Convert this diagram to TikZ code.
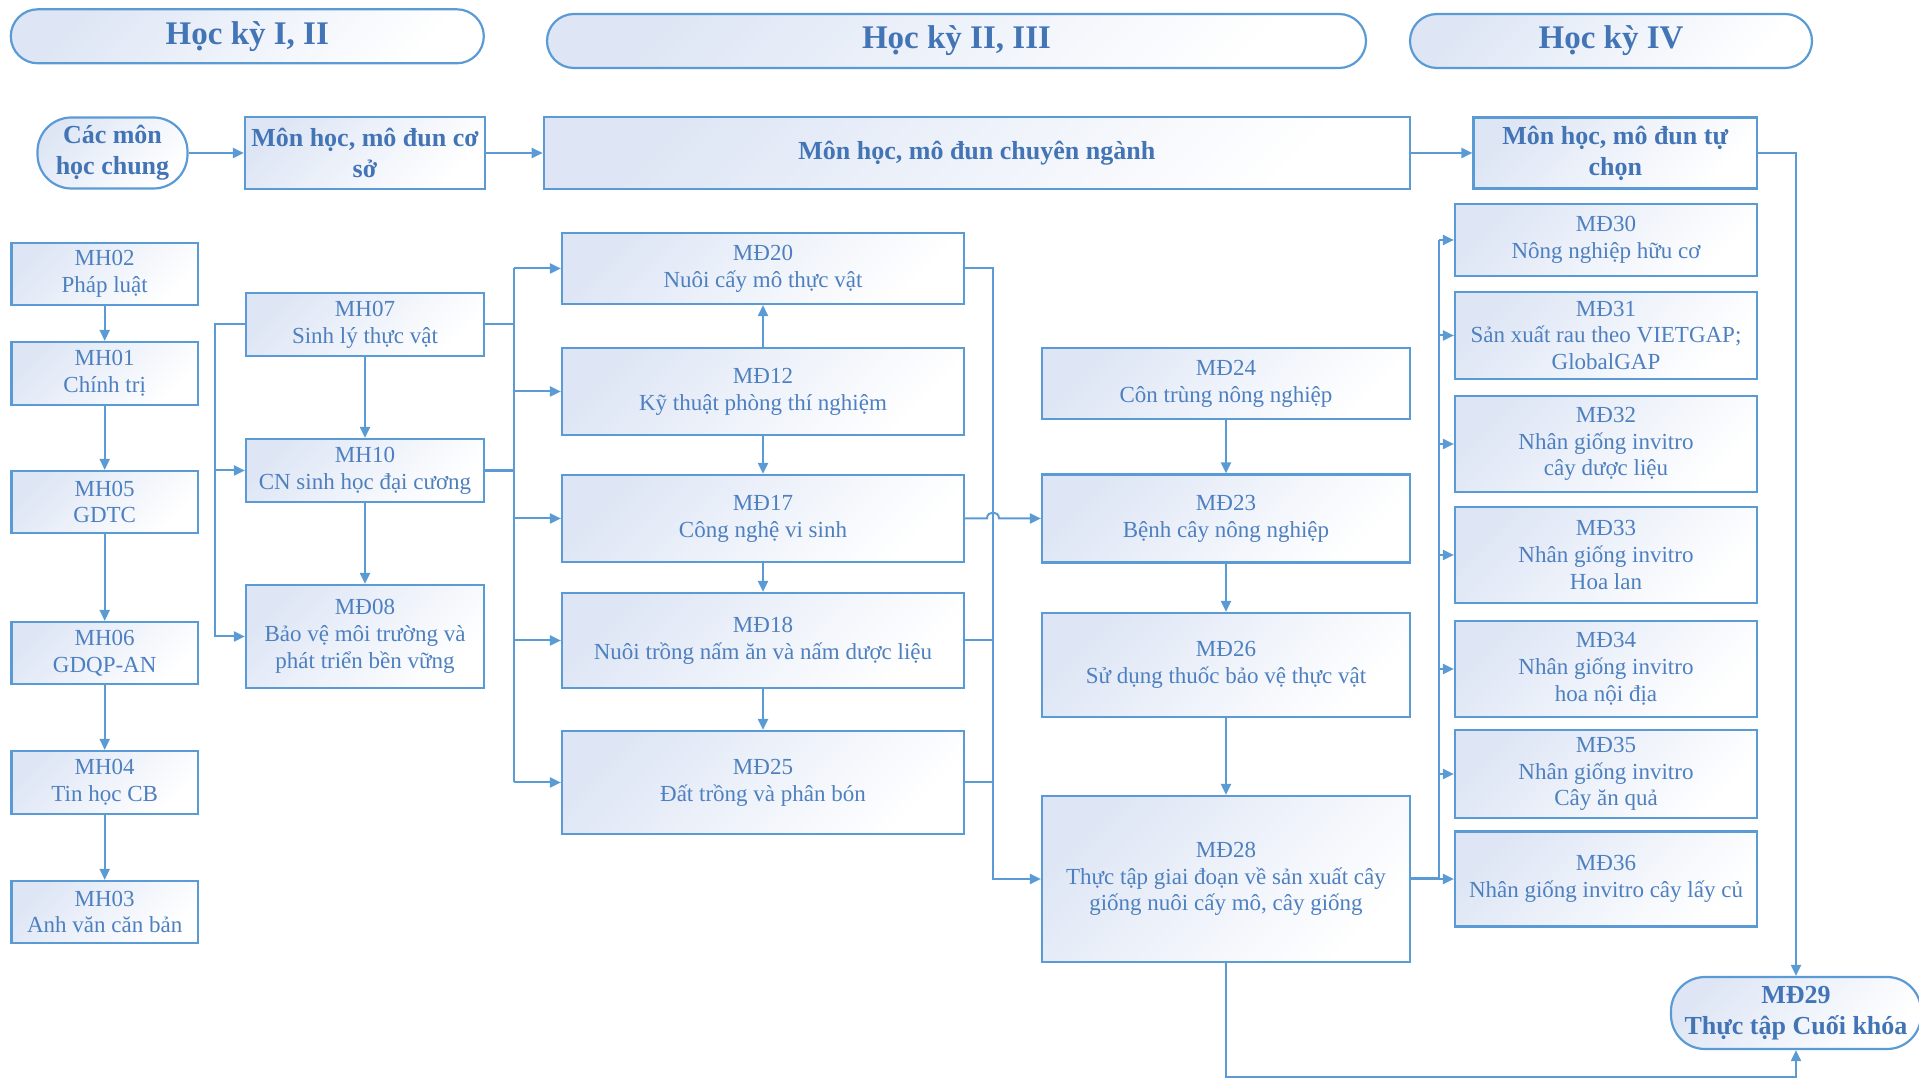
\documentclass[tikz,border=0pt]{standalone}
\usepackage{fontspec}
\setmainfont{Liberation Serif}
\usetikzlibrary{arrows.meta,calc}

\definecolor{lineblue}{RGB}{91,155,213}
\definecolor{txtblue}{RGB}{78,128,192}
\definecolor{hdrblue}{RGB}{66,116,182}
\definecolor{fillblue}{RGB}{222,230,245}

\tikzset{
  modbox/.style={draw=lineblue, line width=1.1pt, top color=fillblue, bottom color=white, shading angle=45,
    text=txtblue, align=center, inner sep=2pt, font=\fontsize{11.5}{13.4}\selectfont},
  titlebox/.style={modbox, text=hdrblue, font=\fontsize{13}{15.5}\selectfont\bfseries},
  pillbox/.style={titlebox, rounded corners=17pt},
  hdr/.style={modbox, text=hdrblue, rounded corners=13.5pt, minimum height=27pt,
    font=\fontsize{16.5}{19}\selectfont\bfseries},
  colA/.style={modbox, minimum width=93.3pt},
  colB/.style={modbox, minimum width=119pt},
  colC/.style={modbox, minimum width=201pt},
  colD/.style={modbox, minimum width=184pt},
  colE/.style={modbox, minimum width=151pt},
  arr/.style={draw=lineblue, line width=1pt, -{Triangle[length=5.5pt,width=5pt]}},
  bus/.style={draw=lineblue, line width=1pt},
}

\begin{document}
\begin{tikzpicture}[x=0.5pt,y=0.5pt,yscale=-1,xscale=1]
\useasboundingbox (0,0) rectangle (1919,1079);

% Headers
\node[hdr, minimum width=236.5pt] (hk1) at (247.3,36.3) {Học kỳ I, II};
\node[hdr, minimum width=409.5pt] (hk2) at (956.5,41) {Học kỳ II, III};
\node[hdr, minimum width=201pt] (hk4) at (1611,41) {Học kỳ IV};

% Top row
\node[pillbox, minimum width=75pt, minimum height=35.5pt] (chung) at (112.5,153) {Các môn\\học chung};
\node[titlebox, minimum width=120pt, minimum height=36pt] (coso) at (365,153) {Môn học, mô đun cơ\\sở};
\node[titlebox, minimum width=433pt, minimum height=36pt] (chuyen) at (976.8,153) {Môn học, mô đun chuyên ngành};
\node[titlebox, minimum width=141.75pt, minimum height=35.5pt] (tuchon) at (1615.25,153) {Môn học, mô đun tự\\chọn};

% Column 1
\node[colA, minimum height=31pt] (mh02) at (104.7,274) {MH02\\Pháp luật};
\node[colA, minimum height=31.5pt] (mh01) at (104.7,373.5) {MH01\\Chính trị};
\node[colA, minimum height=31pt] (mh05) at (104.7,502) {MH05\\GDTC};
\node[colA, minimum height=31pt] (mh06) at (104.7,653) {MH06\\GDQP-AN};
\node[colA, minimum height=31.5pt] (mh04) at (104.7,782.5) {MH04\\Tin học CB};
\node[colA, minimum height=31pt] (mh03) at (104.7,912) {MH03\\Anh văn căn bản};

% Column 2
\node[colB, minimum height=31.5pt] (mh07) at (365,324.5) {MH07\\Sinh lý thực vật};
\node[colB, minimum height=31.5pt] (mh10) at (365,470.5) {MH10\\CN sinh học đại cương};
\node[colB, minimum height=51.5pt] (md08) at (365,636.5) {MĐ08\\Bảo vệ môi trường và\\phát triển bền vững};

% Column 3
\node[colC, minimum height=35.5pt] (md20) at (763,268.5) {MĐ20\\Nuôi cấy mô thực vật};
\node[colC, minimum height=43.5pt] (md12) at (763,391.5) {MĐ12\\Kỹ thuật phòng thí nghiệm};
\node[colC, minimum height=43.5pt] (md17) at (763,518.5) {MĐ17\\Công nghệ vi sinh};
\node[colC, minimum height=47.5pt] (md18) at (763,640.5) {MĐ18\\Nuôi trồng nấm ăn và nấm dược liệu};
\node[colC, minimum height=51.5pt] (md25) at (763,782.5) {MĐ25\\Đất trồng và phân bón};

% Column 4
\node[colD, minimum height=35.5pt] (md24) at (1226,383.5) {MĐ24\\Côn trùng nông nghiệp};
\node[colD, minimum height=44pt] (md23) at (1226,518.5) {MĐ23\\Bệnh cây nông nghiệp};
\node[colD, minimum height=52pt] (md26) at (1226,665) {MĐ26\\Sử dụng thuốc bảo vệ thực vật};
\node[colD, minimum height=83pt] (md28) at (1226,879) {MĐ28\\Thực tập giai đoạn về sản xuất cây\\giống nuôi cấy mô, cây giống};

% Column 5
\node[colE, minimum height=36pt] (md30) at (1606,240) {MĐ30\\Nông nghiệp hữu cơ};
\node[colE, minimum height=43.5pt] (md31) at (1606,335.5) {MĐ31\\Sản xuất rau theo VIETGAP;\\GlobalGAP};
\node[colE, minimum height=48pt] (md32) at (1606,444) {MĐ32\\Nhân giống invitro\\cây dược liệu};
\node[colE, minimum height=48pt] (md33) at (1606,555) {MĐ33\\Nhân giống invitro\\Hoa lan};
\node[colE, minimum height=48pt] (md34) at (1606,669) {MĐ34\\Nhân giống invitro\\hoa nội địa};
\node[colE, minimum height=44pt] (md35) at (1606,774) {MĐ35\\Nhân giống invitro\\Cây ăn quả};
\node[colE, minimum height=47.5pt] (md36) at (1606,879) {MĐ36\\Nhân giống invitro cây lấy củ};

% Final practice
\node[pillbox, minimum width=125pt, minimum height=36pt] (md29) at (1796,1013) {MĐ29\\Thực tập Cuối khóa};

% Bus points
\coordinate (b1) at (514,0);
\coordinate (b2) at (993,0);
\coordinate (b3) at (1439,0);
\coordinate (bot) at (1796,1077);

% Top row connectors
\draw[arr] (chung) -- (coso);
\draw[arr] (coso) -- (chuyen);
\draw[arr] (chuyen) -- (tuchon);
\draw[arr] (tuchon.east) -| (md29.north);
\draw[arr] (md28.south) |- (bot) -- (md29.south);

% Column 1 chain
\draw[arr] (mh02) -- (mh01);
\draw[arr] (mh01) -- (mh05);
\draw[arr] (mh05) -- (mh06);
\draw[arr] (mh06) -- (mh04);
\draw[arr] (mh04) -- (mh03);

% Column 2
\draw[arr] (mh07) -- (mh10);
\draw[arr] (mh10) -- (md08);
\draw[arr] (mh07.west) -- ++(-30,0) |- (mh10.west);
\draw[arr] (mh07.west) -- ++(-30,0) |- (md08.west);
\draw[bus] (mh07.east) -- (b1 |- mh07.east);
\draw[bus, line width=1.5pt] (mh10.east) -- (b1 |- mh10.east);
\draw[bus] (b1 |- md20.west) -- (b1 |- md25.west);
\foreach \n in {md20,md12,md17,md18,md25}
  \draw[arr] (b1 |- \n.west) -- (\n.west);

% Column 3
\draw[arr] (md12) -- (md20);
\draw[arr] (md12) -- (md17);
\draw[arr] (md17) -- (md18);
\draw[arr] (md18) -- (md25);
\draw[arr] (md20.east) -- (b2 |- md20.east) -- (b2 |- md28.west) -- (md28.west);
\draw[bus] (md18.east) -- (b2 |- md18.east);
\draw[bus] (md25.east) -- (b2 |- md25.east);
\draw[arr] (md17.east) -- ($(b2 |- md17.east)+(-6,0)$) .. controls +(0,-8) and +(0,-8) .. ($(b2 |- md17.east)+(6,0)$) -- (md23.west);

% Column 4
\draw[arr] (md24) -- (md23);
\draw[arr] (md23) -- (md26);
\draw[arr] (md26) -- (md28);

% Column 5
\draw[bus, line width=1.5pt] (md28.east) -- (b3 |- md28.east);
\draw[bus] (b3 |- md30.west) -- (b3 |- md36.west);
\foreach \n in {md30,md31,md32,md33,md34,md35,md36}
  \draw[arr] (b3 |- \n.west) -- (\n.west);

\end{tikzpicture}
\end{document}
